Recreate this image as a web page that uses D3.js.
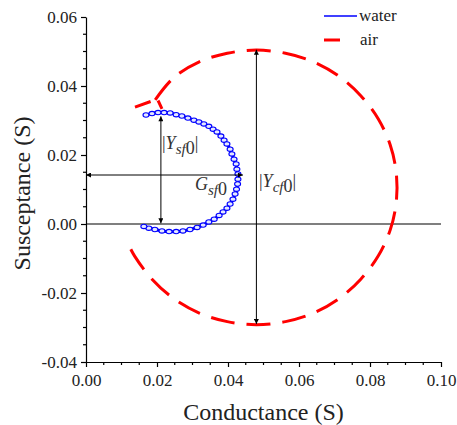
<!DOCTYPE html>
<html>
<head>
<meta charset="utf-8">
<script src="https://cdn.jsdelivr.net/npm/d3@7"></script>
<style>
  html, body { margin: 0; padding: 0; background: #fff; }
  svg text { font-family: "Liberation Serif", "Times New Roman", serif; }
</style>
</head>
<body>
<div id="chart"></div>
<script>
// water: measured admittance loop (G, B)
const waterG = [0.0169, 0.0186, 0.0203, 0.0220, 0.0237, 0.0254, 0.0270, 0.0287, 0.0304, 0.0318,
  0.0332, 0.0346, 0.0358, 0.0369, 0.0380, 0.0389, 0.0397, 0.0406, 0.0411, 0.0417,
  0.0423, 0.0425, 0.0428, 0.0428, 0.0427, 0.0424, 0.0420, 0.0414, 0.0406, 0.0397,
  0.0386, 0.0375, 0.0361, 0.0346, 0.0330, 0.0313, 0.0293, 0.0273, 0.0254, 0.0234,
  0.0214, 0.0194, 0.0177, 0.0163];
const waterB = [0.0316, 0.0320, 0.0323, 0.0323, 0.0322, 0.0317, 0.0313, 0.0307, 0.0301, 0.0296,
  0.0290, 0.0283, 0.0275, 0.0267, 0.0255, 0.0243, 0.0232, 0.0217, 0.0203, 0.0188,
  0.0174, 0.0159, 0.0145, 0.0130, 0.0116, 0.0101, 0.0087, 0.0072, 0.0058, 0.0046,
  0.0035, 0.0025, 0.0014, 0.0006, -0.0003, -0.0010, -0.0016, -0.0020, -0.0022, -0.0022,
  -0.0020, -0.0016, -0.0012, -0.0007];

// air: loop, null marks a break in the trace
const airG = [0.0214, 0.0203, null,
  0.0138, 0.0182, null,
  0.0195, 0.0247, 0.0319, 0.0398, 0.0480, 0.0562, 0.0641, 0.0713, 0.0774, 0.0823,
  0.0857, 0.0874, 0.0874, 0.0857, 0.0823, 0.0774, 0.0713, 0.0641, 0.0562, 0.0480,
  0.0398, 0.0319, 0.0247, 0.0186, 0.0137, 0.0118];
const airB = [0.0334, 0.0358, null,
  0.0339, 0.0355, null,
  0.0360, 0.0424, 0.0470, 0.0495, 0.0504, 0.0495, 0.0470, 0.0428, 0.0372, 0.0305,
  0.0229, 0.0148, 0.0064, -0.0017, -0.0093, -0.0160, -0.0216, -0.0258, -0.0283, -0.0292,
  -0.0283, -0.0258, -0.0216, -0.0160, -0.0093, -0.0056];

const xTicks = [0, 0.02, 0.04, 0.06, 0.08, 0.10];
const yTicks = [-0.04, -0.02, 0, 0.02, 0.04, 0.06];

// annotation arrows [x1, y1, x2, y2] in data units
const arrowGsf = [0, 0.0142, 0.0442, 0.0142];
const arrowYsf = [0.0211, 0.0312, 0.0211, 0.0002];
const arrowYcf = [0.0480, 0.0505, 0.0480, -0.0290];

const W = 457, H = 425;
const margin = { top: 17, right: 16, bottom: 63, left: 86 };

const svg = d3.select("#chart").append("svg")
  .attr("width", W).attr("height", H);

const x = d3.scaleLinear().domain([0, 0.10]).range([margin.left, W - margin.right]);
const y = d3.scaleLinear().domain([-0.04, 0.06]).range([H - margin.bottom, margin.top]);

const defs = svg.append("defs");
defs.append("marker")
  .attr("id", "arr")
  .attr("viewBox", "0 0 10 10")
  .attr("refX", 10).attr("refY", 5)
  .attr("markerWidth", 6).attr("markerHeight", 5)
  .attr("markerUnits", "userSpaceOnUse")
  .attr("orient", "auto-start-reverse")
  .append("path")
  .attr("d", "M0,0L10,5L0,10Z")
  .attr("fill", "#000");

// axes
const fmt = v => d3.format(".2f")(v).replace("\u2212", "-");
const xAxis = svg.append("g")
  .attr("transform", `translate(0,${y(-0.04)})`)
  .call(d3.axisBottom(x).tickValues(xTicks).tickFormat(fmt).tickSize(5).tickSizeOuter(0));
const yAxis = svg.append("g")
  .attr("transform", `translate(${x(0)},0)`)
  .call(d3.axisLeft(y).tickValues(yTicks).tickFormat(fmt).tickSize(5).tickSizeOuter(0));

[xAxis, yAxis].forEach(a => {
  a.attr("font-family", null).attr("font-size", null);
  a.select(".domain").attr("stroke", "#000").attr("stroke-width", 1.2);
  a.selectAll(".tick line").attr("stroke", "#000").attr("stroke-width", 1.2);
  a.selectAll(".tick text")
    .style("font-family", "'Liberation Serif', serif")
    .style("font-size", "17px")
    .attr("fill", "#222");
});
xAxis.selectAll(".tick text").attr("dy", "0.95em");
yAxis.selectAll(".tick text").attr("x", -9);

// minor ticks
const minorX = d3.range(0, 0.1001, 0.005).filter(v => !xTicks.some(t => Math.abs(t - v) < 1e-9));
const minorY = d3.range(-0.04, 0.0601, 0.005).filter(v => !yTicks.some(t => Math.abs(t - v) < 1e-9));
svg.append("g").selectAll("line").data(minorX).join("line")
  .attr("x1", d => x(d)).attr("x2", d => x(d))
  .attr("y1", y(-0.04)).attr("y2", y(-0.04) + 3)
  .attr("stroke", "#000").attr("stroke-width", 1.2);
svg.append("g").selectAll("line").data(minorY).join("line")
  .attr("y1", d => y(d)).attr("y2", d => y(d))
  .attr("x1", x(0)).attr("x2", x(0) - 3)
  .attr("stroke", "#000").attr("stroke-width", 1.2);

// zero line
svg.append("line")
  .attr("x1", x(0)).attr("x2", x(0.10))
  .attr("y1", y(0)).attr("y2", y(0))
  .attr("stroke", "#000").attr("stroke-width", 1.2);

// axis titles
svg.append("text")
  .attr("x", (x(0) + x(0.1)) / 2).attr("y", 420)
  .attr("text-anchor", "middle").attr("font-size", "24px").attr("fill", "#222")
  .text("Conductance (S)");
svg.append("text")
  .attr("transform", `translate(30,${(y(-0.04) + y(0.06)) / 2 + 4}) rotate(-90)`)
  .attr("text-anchor", "middle").attr("font-size", "24px").attr("fill", "#222")
  .text("Susceptance (S)");

// air trace
const airData = airG.map((g, i) => ({ g, b: airB[i] }));
const airLine = d3.line()
  .defined(d => d.g !== null)
  .x(d => x(d.g)).y(d => y(d.b))
  .curve(d3.curveCatmullRom);
svg.append("path")
  .attr("d", airLine(airData))
  .attr("fill", "none")
  .attr("stroke", "#ff0000")
  .attr("stroke-width", 3)
  .attr("stroke-dasharray", "24,12");

// water trace
const waterData = waterG.map((g, i) => ({ g, b: waterB[i] }));
const waterLine = d3.line().x(d => x(d.g)).y(d => y(d.b)).curve(d3.curveCatmullRom);
svg.append("path")
  .attr("d", waterLine(waterData))
  .attr("fill", "none")
  .attr("stroke", "#0000ff")
  .attr("stroke-width", 3);
svg.append("g").selectAll("ellipse").data(waterData).join("ellipse")
  .attr("cx", d => x(d.g)).attr("cy", d => y(d.b))
  .attr("rx", 3).attr("ry", 2.2)
  .attr("fill", "#e4e8ff")
  .attr("stroke", "#0000ff")
  .attr("stroke-width", 1.1);

// annotation arrows
[arrowGsf, arrowYsf, arrowYcf].forEach(a => {
  svg.append("line")
    .attr("x1", x(a[0])).attr("y1", y(a[1]))
    .attr("x2", x(a[2])).attr("y2", y(a[3]))
    .attr("stroke", "#000").attr("stroke-width", 1)
    .attr("marker-start", "url(#arr)")
    .attr("marker-end", "url(#arr)");
});

// annotation labels
function label(px, py) {
  return svg.append("text").attr("x", px).attr("y", py)
    .attr("font-size", "18px").attr("fill", "#333");
}
const l1 = label(162, 149);
l1.append("tspan").text("|");
l1.append("tspan").attr("font-style", "italic").text("Y");
l1.append("tspan").attr("font-style", "italic").attr("font-size", "15px").attr("dy", 5).text("sf");
l1.append("tspan").text("0");
l1.append("tspan").attr("dy", -5).text("|");

const l2 = label(195, 190);
l2.append("tspan").attr("font-style", "italic").text("G");
l2.append("tspan").attr("font-style", "italic").attr("font-size", "15px").attr("dy", 5).text("sf");
l2.append("tspan").text("0");

const l3 = label(259, 187);
l3.append("tspan").text("|");
l3.append("tspan").attr("font-style", "italic").text("Y");
l3.append("tspan").attr("font-style", "italic").attr("font-size", "15px").attr("dy", 5).text("cf");
l3.append("tspan").text("0");
l3.append("tspan").attr("dy", -5).text("|");

// legend
const legend = svg.append("g").attr("transform", "translate(324,16)");
legend.append("line").attr("x1", 0).attr("x2", 33).attr("y1", 0).attr("y2", 0)
  .attr("stroke", "#0000ff").attr("stroke-width", 1.5);
legend.append("text").attr("x", 35).attr("y", 5).attr("font-size", "17px").attr("fill", "#222").text("water");
legend.append("line").attr("x1", 0).attr("x2", 16).attr("y1", 24).attr("y2", 24)
  .attr("stroke", "#ff0000").attr("stroke-width", 3);
legend.append("text").attr("x", 36).attr("y", 29).attr("font-size", "17px").attr("fill", "#222").text("air");
</script>
</body>
</html>
